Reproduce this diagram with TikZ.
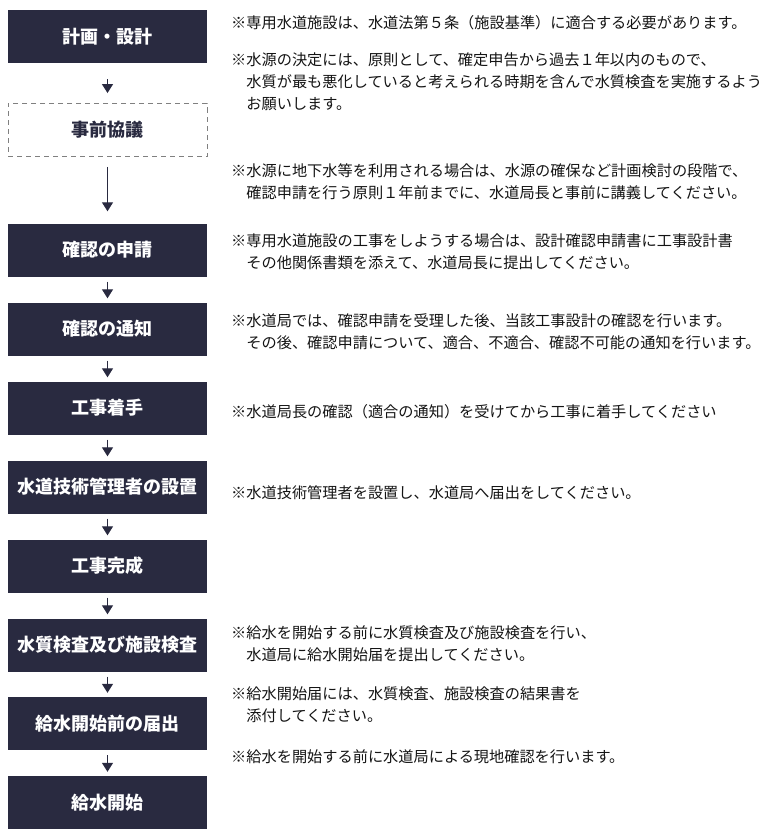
\documentclass[tikz,border=0pt]{standalone}
\usepackage{fontspec}
\newfontfamily\jpfont{Noto Sans CJK JP}
\usetikzlibrary{arrows.meta}
\definecolor{navy}{RGB}{41,42,64}
\definecolor{notetext}{RGB}{20,20,20}
\tikzset{
  stepbox/.style={fill=navy, text=white, minimum width=199pt, minimum height=53pt,
    inner sep=0pt, font=\jpfont\bfseries\fontsize{18}{20}\selectfont},
  optbox/.style={stepbox, fill=white, draw=gray, dash pattern=on 5pt off 4pt,
    line width=0.9pt, text=navy},
  note/.style={anchor=west, align=left, inner sep=0pt, text=notetext,
    font=\jpfont\fontsize{15.2}{22}\selectfont},
  flow/.style={navy, line width=1.3pt, -{Triangle[width=11pt,length=9pt]}}
}
\begin{document}
\begin{tikzpicture}[x=1pt,y=-1pt]
  \useasboundingbox (0,0) rectangle (780,840);
  % steps
  \node[stepbox] (plan)    at (107.5,36.5) {計画・設計};
  \node[optbox]  (consult) at (107.5,130)  {事前協議};
  \node[stepbox] (apply)   at (107.5,250)  {確認の申請};
  \node[stepbox] (notice)  at (107.5,329)  {確認の通知};
  \node[stepbox] (start)   at (107.5,408)  {工事着手};
  \node[stepbox] (manager) at (107.5,487)  {水道技術管理者の設置};
  \node[stepbox] (done)    at (107.5,566)  {工事完成};
  \node[stepbox] (inspect) at (107.5,645)  {水質検査及び施設検査};
  \node[stepbox] (report)  at (107.5,723.5) {給水開始前の届出};
  \node[stepbox] (supply)  at (107.5,802.5) {給水開始};
  % arrows
  \begin{scope}[flow]
    \draw[shorten <=16pt, shorten >=10pt] (plan) to (consult);
    \draw[shorten <=10pt, shorten >=12pt] (consult) to (apply);
    \draw[shorten <=5pt, shorten >=4pt] (apply) to (notice);
    \draw[shorten <=5pt, shorten >=4pt] (notice) to (start);
    \draw[shorten <=5pt, shorten >=4pt] (start) to (manager);
    \draw[shorten <=5pt, shorten >=4pt] (manager) to (done);
    \draw[shorten <=5pt, shorten >=4pt] (done) to (inspect);
    \draw[shorten <=5pt, shorten >=4pt] (inspect) to (report);
    \draw[shorten <=5pt, shorten >=4pt] (report) to (supply);
  \end{scope}
  % notes
  \node[note] (n1) at (231,23) {※専用水道施設は、水道法第５条（施設基準）に適合する必要があります。};
  \node[note] (n2) at (231,82) {※水源の決定には、原則として、確定申告から過去１年以内のもので、\\
    　水質が最も悪化していると考えられる時期を含んで水質検査を実施するよう\\
    　お願いします。};
  \node[note] (n3) at (231,182) {※水源に地下水等を利用される場合は、水源の確保など計画検討の段階で、\\
    　確認申請を行う原則１年前までに、水道局長と事前に講義してください。};
  \node[note] (n4) at (231,251.5) {※専用水道施設の工事をしようする場合は、設計確認申請書に工事設計書\\
    　その他関係書類を添えて、水道局長に提出してください。};
  \node[note] (n5) at (231,331.5) {※水道局では、確認申請を受理した後、当該工事設計の確認を行います。\\
    　その後、確認申請について、適合、不適合、確認不可能の通知を行います。};
  \node[note] (n6) at (231,412) {※水道局長の確認（適合の通知）を受けてから工事に着手してください};
  \node[note] (n7) at (231,493) {※水道技術管理者を設置し、水道局へ届出をしてください。};
  \node[note] (n8) at (231,644) {※給水を開始する前に水質検査及び施設検査を行い、\\
    　水道局に給水開始届を提出してください。};
  \node[note] (n9) at (231,705) {※給水開始届には、水質検査、施設検査の結果書を\\
    　添付してください。};
  \node[note] (n10) at (231,757) {※給水を開始する前に水道局による現地確認を行います。};
\end{tikzpicture}
\end{document}
